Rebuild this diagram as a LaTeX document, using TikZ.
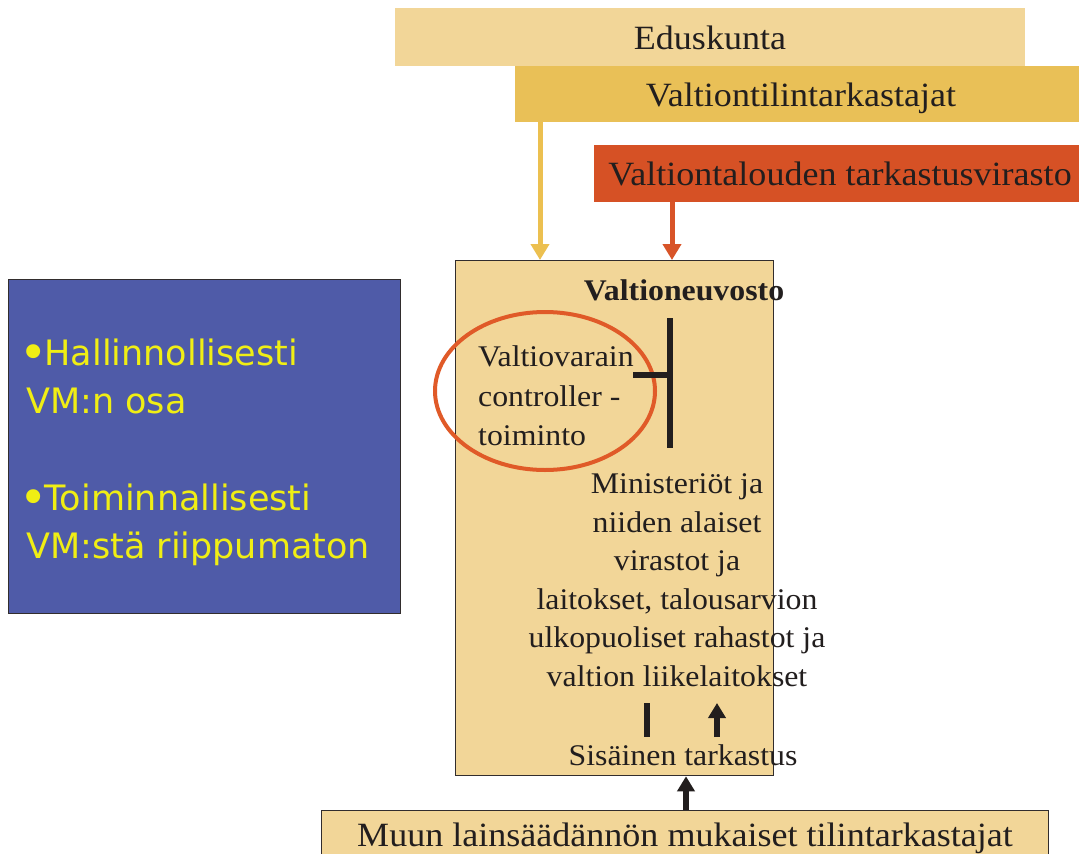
\documentclass[tikz,border=0pt]{standalone}
\usepackage{fontspec}
\setmainfont{Liberation Serif}[FakeStretch=1.06]
\newfontfamily\dvs{DejaVu Sans}
\usetikzlibrary{arrows.meta,shapes.geometric}
\definecolor{cEdu}{RGB}{242,214,152}
\definecolor{cVtt}{RGB}{233,192,87}
\definecolor{cVtv}{RGB}{214,81,37}
\definecolor{cTan}{RGB}{242,214,152}
\definecolor{cBlue}{RGB}{79,91,168}
\definecolor{cYel}{RGB}{240,238,20}
\definecolor{cOr}{RGB}{224,90,40}
\definecolor{cYArr}{RGB}{236,192,80}
\definecolor{cRArr}{RGB}{216,84,40}
\definecolor{cInk}{RGB}{34,30,30}
\definecolor{cBorder}{RGB}{50,45,45}
\newcommand\bigbul{{\fontsize{48}{48}\selectfont\hspace{-7pt}\raisebox{-4pt}{•}\hspace{-3pt}}}
\begin{document}
\begin{tikzpicture}[x=1pt,y=-1pt,
  plainbox/.style={draw=none, inner sep=0pt, outer sep=0pt, anchor=north west},
  framebox/.style={draw=cBorder, line width=1.3pt, inner sep=0pt, anchor=north west},
  lbl/.style={anchor=base, inner sep=0pt, text=cInk},
  bigtxt/.style={font=\fontsize{34}{40}\selectfont},
  midtxt/.style={font=\fontsize{30}{38.6}\selectfont},
  yarrow/.style={draw=cYArr, line width=5pt, -{Triangle[width=18pt,length=16pt]}},
  rarrow/.style={draw=cRArr, line width=5pt, -{Triangle[width=18pt,length=16pt]}},
  karrow/.style={draw=cInk, line width=6pt, -{Triangle[width=17pt,length=15pt]}},
  kbar/.style={draw=cInk, line width=6pt},
]
\useasboundingbox (0,0) rectangle (1079,854);
\clip (0,0) rectangle (1079,854);
\fill[white] (0,0) rectangle (1079,854);

% top boxes
\node[plainbox, fill=cEdu, minimum width=630pt, minimum height=58pt] (edu) at (395,8) {};
\node[plainbox, fill=cVtt, minimum width=570pt, minimum height=56pt] (vtt) at (515,66) {};
\node[plainbox, fill=cVtv, minimum width=490pt, minimum height=57pt] (vtv) at (594,145) {};
\node[lbl, bigtxt] (tEdu) at (710,49) {Eduskunta};
\node[lbl, bigtxt] (tVtt) at (801,106) {Valtiontilintarkastajat};
\node[lbl, bigtxt] (tVtv) at (840,185) {Valtiontalouden tarkastusvirasto};

% left blue box
\node[framebox, fill=cBlue, minimum width=392pt, minimum height=334pt] (blue) at (8,279) {};
\node[anchor=north west, inner sep=0pt, align=left, text=cYel,
      font=\dvs\fontsize{35}{48}\selectfont] (tBlue) at (26,338.5)
  {\bigbul Hallinnollisesti\\VM:n osa\\[49pt]\bigbul Toiminnallisesti\\VM:stä riippumaton};

% main box
\node[framebox, fill=cTan, minimum width=318pt, minimum height=515pt] (vn) at (455,260) {};
\node[lbl, font=\bfseries\fontsize{30}{36}\selectfont] (tVn) at (684,300) {Valtioneuvosto};
\node[anchor=north west, inner sep=0pt, align=left, text=cInk,
      font=\fontsize{30}{39.5}\selectfont] (tVv) at (478,345.5)
  {Valtiovarain\\controller -\\toiminto};
\node[draw=cOr, line width=4pt, ellipse, inner sep=0pt,
      minimum width=220pt, minimum height=158pt] (ell) at (545,391) {};
\coordinate (tTop) at (670,318);
\coordinate (tBot) at (670,448);
\coordinate (tArm) at (633,375);
\draw[kbar] (tTop) -- (tBot);
\draw[kbar] (tArm) -- (tArm -| tTop);
\node[anchor=north, inner sep=0pt, align=center, text=cInk, midtxt] (tMin) at (677,473.5)
  {Ministeriöt ja\\niiden alaiset\\virastot ja\\laitokset, talousarvion\\ulkopuoliset rahastot ja\\valtion liikelaitokset};
\coordinate (barTop) at (647,703);
\coordinate (barBot) at (647,737);
\draw[kbar] (barTop) -- (barBot);
\coordinate (upBot) at (717,737);
\coordinate (upTop) at (717,703);
\draw[karrow] (upBot) -- (upTop);
\node[lbl, font=\fontsize{30}{36}\selectfont] (tSis) at (683,765) {Sisäinen tarkastus};

% bottom box
\node[framebox, fill=cTan, minimum width=727pt, minimum height=70pt] (muu) at (321,810) {};
\node[lbl, bigtxt] (tMuu) at (685,846) {Muun lainsäädännön mukaiset tilintarkastajat};

% connectors
\draw[yarrow] (540,0 |- vtt.south) -- (540,0 |- vn.north);
\draw[rarrow] (672,0 |- vtv.south) -- (672,0 |- vn.north);
\draw[karrow] (686,0 |- muu.north) -- (686,0 |- vn.south);
\end{tikzpicture}
\end{document}
